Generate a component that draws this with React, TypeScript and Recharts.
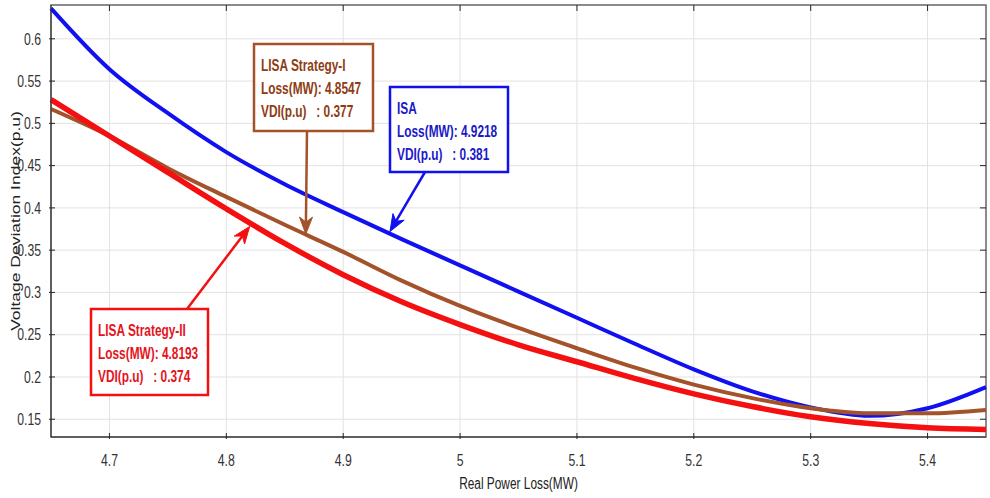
import React from 'react';
import { LineChart, Line, XAxis, YAxis, CartesianGrid, ReferenceArea, ReferenceDot } from 'recharts';

const lossMW = [4.65, 4.7, 4.75, 4.8, 4.85, 4.9, 4.95, 5.0, 5.05, 5.1, 5.15, 5.2, 5.25, 5.3, 5.35, 5.4, 5.45];
const isaVdi = [0.636, 0.564, 0.512, 0.466, 0.428, 0.395, 0.363, 0.332, 0.301, 0.27, 0.239, 0.209, 0.183, 0.164, 0.154, 0.163, 0.188];
const lisa1Vdi = [0.517, 0.485, 0.447, 0.413, 0.38, 0.348, 0.314, 0.284, 0.258, 0.234, 0.211, 0.191, 0.175, 0.163, 0.157, 0.157, 0.161];
const lisa2Vdi = [0.528, 0.485, 0.442, 0.399, 0.358, 0.321, 0.289, 0.262, 0.238, 0.218, 0.198, 0.18, 0.165, 0.153, 0.145, 0.14, 0.138];

const xTicks = [4.7, 4.8, 4.9, 5, 5.1, 5.2, 5.3, 5.4];
const yTicks = [0.15, 0.2, 0.25, 0.3, 0.35, 0.4, 0.45, 0.5, 0.55, 0.6];

// callouts: ISA, LISA Strategy-I, LISA Strategy-II
const calloutTitles = ['ISA', 'LISA Strategy-I', 'LISA Strategy-II'];
const calloutLoss = ['4.9218', '4.8547', '4.8193'];
const calloutVdi = ['0.381', '0.377', '0.374'];
const arrowTipLoss = [4.94, 4.868, 4.82];
const arrowTipVdi = [0.372, 0.369, 0.378];

const W = 990;
const H = 498;
const M = { top: 5, right: 4, bottom: 0, left: 0 };
const PLOT_TOP = M.top;
const PLOT_RIGHT = W - M.right;
const SQUEEZE = 0.72; // the source picture is narrowed horizontally

const BLUE = '#1010f0';
const BROWN = '#a4522a';
const RED = '#f41010';

const boxes = [
  { x: 390, y: 87, w: 118, h: 85, ax: 425, ay: 172, line: BLUE, text: '#1a1ac8' },
  { x: 254, y: 44, w: 119, h: 87, ax: 307, ay: 131, line: BROWN, text: '#8e3c14' },
  { x: 91, y: 309, w: 117, h: 86, ax: 187, ay: 309, line: RED, text: '#e3141c' },
];

const data = lossMW.map((loss, i) => ({
  loss,
  isa: isaVdi[i],
  lisa1: lisa1Vdi[i],
  lisa2: lisa2Vdi[i],
}));

const FONT = "'Liberation Sans', Arial, sans-serif";

function NarrowText({ x, y, anchor = 'start', size = 17, weight = 400, color = '#333', children }: any) {
  return (
    <text
      transform={`translate(${x},${y}) scale(${SQUEEZE},1)`}
      x={0}
      y={0}
      textAnchor={anchor}
      dominantBaseline="central"
      fontSize={size}
      fontWeight={weight}
      fill={color}
      fontFamily={FONT}
      style={{ whiteSpace: 'pre' }}
    >
      {children}
    </text>
  );
}

function XTick(props: any) {
  const { x, y, payload } = props;
  return (
    <g>
      <line x1={x} y1={y} x2={x} y2={y - 6} stroke="#262626" />
      <line x1={x} y1={PLOT_TOP} x2={x} y2={PLOT_TOP + 6} stroke="#262626" />
      <NarrowText x={x} y={y + 21} anchor="middle">{String(payload.value)}</NarrowText>
    </g>
  );
}

function YTick(props: any) {
  const { x, y, payload } = props;
  return (
    <g>
      <line x1={x} y1={y} x2={x + 6} y2={y} stroke="#262626" />
      <line x1={PLOT_RIGHT - 6} y1={y} x2={PLOT_RIGHT} y2={y} stroke="#262626" />
      <NarrowText x={x - 8} y={y} anchor="end">{String(payload.value)}</NarrowText>
    </g>
  );
}

function makeCallout(i: number) {
  const b = boxes[i];
  return (props: any) => {
    const { cx, cy } = props;
    const dx = cx - b.ax;
    const dy = cy - b.ay;
    const len = Math.hypot(dx, dy);
    const ux = dx / len;
    const uy = dy / len;
    const headLen = 17;
    const halfW = 6.5;
    const notch = 5;
    const bx = cx - ux * headLen;
    const by = cy - uy * headLen;
    const nx = cx - ux * (headLen - notch);
    const ny = cy - uy * (headLen - notch);
    const head = `M${cx},${cy} L${bx - uy * halfW},${by + ux * halfW} L${nx},${ny} L${bx + uy * halfW},${by - ux * halfW} Z`;
    return (
      <g>
        <line x1={b.ax} y1={b.ay} x2={nx} y2={ny} stroke={b.line} strokeWidth={2.5} />
        <path d={head} fill={b.line} stroke={b.line} strokeWidth={1} />
        <rect x={b.x} y={b.y} width={b.w} height={b.h} fill="#fff" stroke={b.line} strokeWidth={2.5} />
        <NarrowText x={b.x + 7} y={b.y + 21} size={16.5} weight={700} color={b.text}>{calloutTitles[i]}</NarrowText>
        <NarrowText x={b.x + 7} y={b.y + 44} size={16.5} weight={700} color={b.text}>{`Loss(MW): ${calloutLoss[i]}`}</NarrowText>
        <NarrowText x={b.x + 7} y={b.y + 67} size={16.5} weight={700} color={b.text}>{`VDI(p.u)   : ${calloutVdi[i]}`}</NarrowText>
      </g>
    );
  };
}

export default function App() {
  return (
    <div style={{ position: 'absolute', left: 0, top: 0, width: W, height: H, background: '#fff' }}>
      <LineChart width={W} height={H} data={data} margin={M}>
        <CartesianGrid stroke="#e2e2e2" />
        <XAxis
          dataKey="loss"
          type="number"
          domain={[4.65, 5.45]}
          ticks={xTicks}
          tickSize={0}
          tickLine={false}
          axisLine={{ stroke: '#333' }}
          height={61}
          tick={<XTick />}
          label={{
            content: ({ viewBox }: any) => (
              <NarrowText x={viewBox.x + viewBox.width / 2} y={viewBox.y + 46} anchor="middle" size={16.5} color="#222">
                Real Power Loss(MW)
              </NarrowText>
            ),
          }}
        />
        <YAxis
          type="number"
          domain={[0.129, 0.64]}
          ticks={yTicks}
          tickSize={0}
          tickLine={false}
          axisLine={{ stroke: '#333' }}
          width={51}
          tick={<YTick />}
          label={{
            content: ({ viewBox }: any) => {
              const lx = 15;
              const ly = viewBox.y + viewBox.height / 2;
              return (
                <text
                  transform={`translate(${lx},${ly}) scale(${SQUEEZE},1) rotate(-90)`}
                  x={0}
                  y={0}
                  textAnchor="middle"
                  dominantBaseline="central"
                  fontSize={17.5}
                  fill="#222"
                  fontFamily={FONT}
                >
                  Voltage Deviation Index(p.u)
                </text>
              );
            },
          }}
        />
        <ReferenceArea x1={4.65} x2={5.45} y1={0.129} y2={0.64} fill="none" stroke="#6a6a6a" strokeWidth={1.5} />
        <Line type="monotone" dataKey="isa" stroke={BLUE} strokeWidth={4} dot={false} isAnimationActive={false} />
        <Line type="monotone" dataKey="lisa1" stroke={BROWN} strokeWidth={4} dot={false} isAnimationActive={false} />
        <Line type="monotone" dataKey="lisa2" stroke={RED} strokeWidth={5.5} dot={false} isAnimationActive={false} />
        {calloutTitles.map((t, i) => (
          <ReferenceDot key={t} x={arrowTipLoss[i]} y={arrowTipVdi[i]} r={0} shape={makeCallout(i)} />
        ))}
      </LineChart>
    </div>
  );
}
